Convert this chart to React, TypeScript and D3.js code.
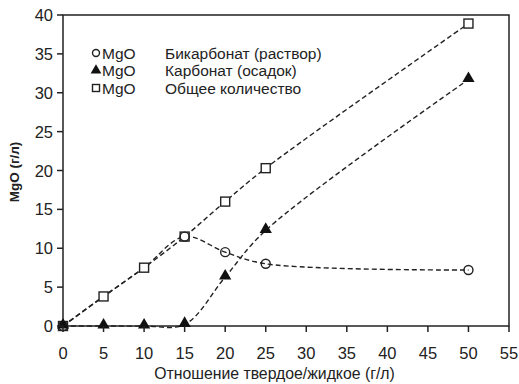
import React from "react";
import * as d3 from "d3";

const xTicks = [0, 5, 10, 15, 20, 25, 30, 35, 40, 45, 50, 55];
const yTicks = [0, 5, 10, 15, 20, 25, 30, 35, 40];

const bicarbX = [0, 15, 20, 25, 50];
const bicarbY = [0, 11.5, 9.5, 8.0, 7.2];
const carbX = [0, 5, 10, 15, 20, 25, 50];
const carbY = [0, 0, 0, 0.2, 6.3, 12.3, 31.7];
const totalX = [0, 5, 10, 15, 20, 25, 50];
const totalY = [0, 3.8, 7.5, 11.5, 16.0, 20.3, 38.9];

const legendLabels = ["Бикарбонат (раствор)", "Карбонат (осадок)", "Общее количество"];

const W = 519, H = 384;
const L = 63, R = 509, T = 15, B = 326;
const FONT = "Liberation Sans, Arial, sans-serif";

export default function App() {
  const x = d3.scaleLinear().domain([0, 55]).range([L, R]);
  const y = d3.scaleLinear().domain([0, 40]).range([B, T]);
  const line = d3
    .line<[number, number]>()
    .x((d) => x(d[0]))
    .y((d) => y(d[1]))
    .curve(d3.curveCatmullRom.alpha(0.5));
  const zip = (a: number[], b: number[]) => a.map((v, i) => [v, b[i]] as [number, number]);
  const bic = zip(bicarbX, bicarbY);
  const carb = zip(carbX, carbY);
  const tot = zip(totalX, totalY);
  const bicLine = [...zip([0, 5, 10], [0, 3.8, 7.5]), ...bic.slice(1)];
  const tri = d3.symbol().type(d3.symbolTriangle).size(65)()!;
  const dash = "5,3";
  return (
    <svg width={W} height={H} style={{ position: "absolute", left: 0, top: 0, background: "#fff" }}>
      <rect x={0} y={0} width={W} height={H} fill="#fff" />
      <rect x={L} y={T} width={R - L} height={B - T} fill="none" stroke="#222" strokeWidth={1.5} />
      <path d={line(tot)!} fill="none" stroke="#222" strokeWidth={1.4} strokeDasharray={dash} />
      <path d={line(bicLine)!} fill="none" stroke="#222" strokeWidth={1.4} strokeDasharray={dash} />
      <path d={line(carb)!} fill="none" stroke="#222" strokeWidth={1.4} strokeDasharray={dash} />
      {tot.map((d, i) => (
        <rect key={"s" + i} x={x(d[0]) - 4.5} y={y(d[1]) - 4.5} width={9} height={9} fill="#fff" stroke="#222" strokeWidth={1.4} />
      ))}
      {bic.map((d, i) => (
        <circle key={"c" + i} cx={x(d[0])} cy={y(d[1])} r={4.5} fill="none" stroke="#222" strokeWidth={1.4} />
      ))}
      {carb.map((d, i) => (
        <path key={"t" + i} d={tri} transform={`translate(${x(d[0])},${y(d[1]) - 1})`} fill="#111" />
      ))}
      {yTicks.map((t) => (
        <g key={"y" + t}>
          <line x1={L - 6} x2={L} y1={y(t)} y2={y(t)} stroke="#222" strokeWidth={1.5} />
          <text x={L - 10} y={y(t) + 6} textAnchor="end" fontFamily={FONT} fontSize={16.5} fill="#222">{t}</text>
        </g>
      ))}
      {xTicks.map((t) => (
        <g key={"x" + t}>
          <line x1={x(t)} x2={x(t)} y1={B} y2={B + 6} stroke="#222" strokeWidth={1.5} />
          <text x={x(t)} y={B + 33} textAnchor="middle" fontFamily={FONT} fontSize={16.5} fill="#222">{t}</text>
        </g>
      ))}
      <text x={(152 + 397) / 2} y={379} textAnchor="middle" fontFamily={FONT} fontSize={15.8} fill="#222">
        Отношение твердое/жидкое (г/л)
      </text>
      <text transform={`translate(19,${172}) rotate(-90)`} textAnchor="middle" fontFamily={FONT} fontSize={13.5} fontWeight="bold" fill="#222">
        MgO (г/л)
      </text>
      {legendLabels.map((lab, i) => {
        const yy = 53 + i * 17.5;
        return (
          <g key={"l" + i}>
            {i === 0 && <circle cx={96} cy={yy} r={3.5} fill="none" stroke="#222" strokeWidth={1.4} />}
            {i === 1 && <path d={d3.symbol().type(d3.symbolTriangle).size(50)()!} transform={`translate(96,${yy})`} fill="#111" />}
            {i === 2 && <rect x={92.5} y={yy - 3.5} width={7} height={7} fill="none" stroke="#222" strokeWidth={1.4} />}
            <text x={102} y={yy + 5.5} fontFamily={FONT} fontSize={15.5} fill="#222">MgO</text>
            <text x={165} y={yy + 5.5} fontFamily={FONT} fontSize={15.5} fill="#222">{lab}</text>
          </g>
        );
      })}
    </svg>
  );
}
